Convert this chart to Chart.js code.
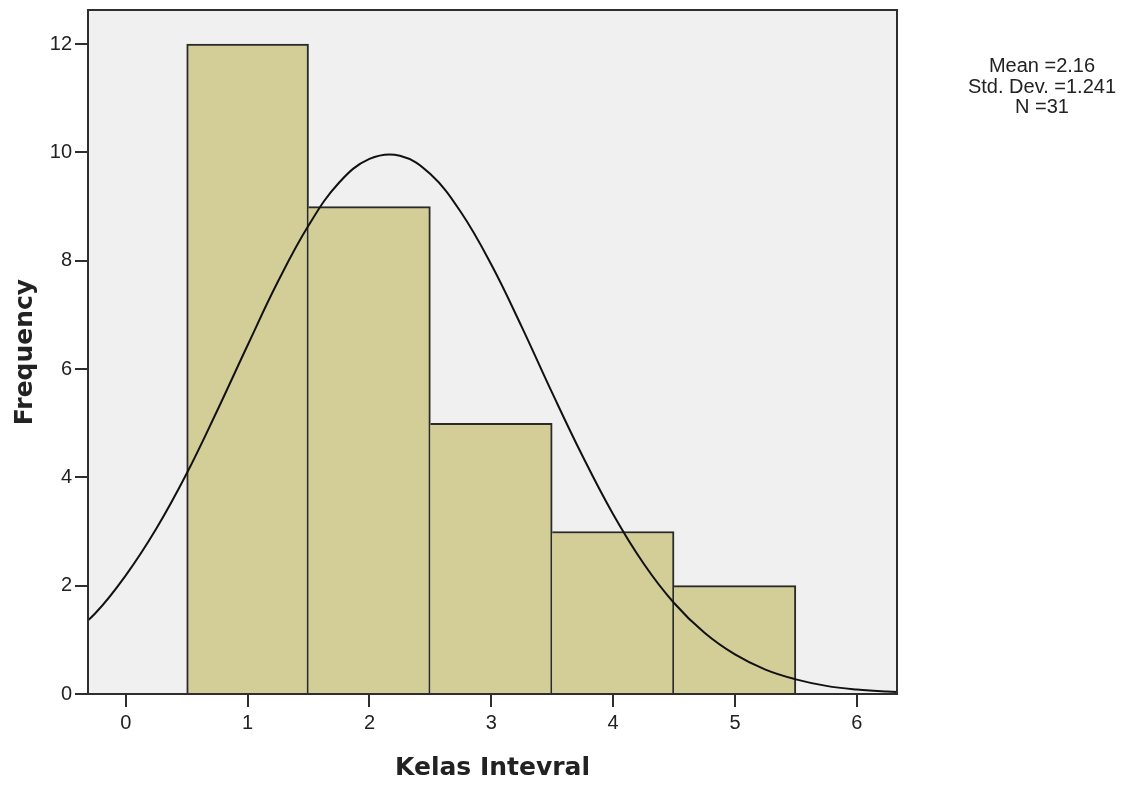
<!DOCTYPE html>
<html>
<head>
<meta charset="utf-8">
<script src="https://cdn.jsdelivr.net/npm/chart.js@4.4.1/dist/chart.umd.min.js"></script>
<style>
  html, body { margin: 0; padding: 0; background: #ffffff; }
  #wrap { width: 1136px; height: 788px; }
</style>
</head>
<body>
<div id="wrap"><canvas id="c" width="1136" height="788"></canvas></div>
<script>
// ---- data ----
const binCenters = [1, 2, 3, 4, 5];
const frequencies = [12, 9, 5, 3, 2];

const curveX = [-0.5, -0.25, 0, 0.25, 0.5, 0.75, 1, 1.25, 1.5, 1.75, 2, 2.25, 2.5, 2.75, 3, 3.25, 3.5, 3.75, 4, 4.25, 4.5, 4.75, 5, 5.25, 5.5, 5.75, 6, 6.25, 6.5];
const curveY = [1.00, 1.49, 2.19, 3.05, 4.07, 5.23, 6.44, 7.62, 8.65, 9.44, 9.88, 9.94, 9.60, 8.90, 7.93, 6.78, 5.56, 4.39, 3.32, 2.41, 1.68, 1.13, 0.73, 0.45, 0.27, 0.15, 0.083, 0.044, 0.022];

const xTicks = [0, 1, 2, 3, 4, 5, 6];
const yTicks = [0, 2, 4, 6, 8, 10, 12];

const statsLines = ['Mean =2.16', 'Std. Dev. =1.241', 'N =31'];
const xTitle = 'Kelas Intevral';
const yTitle = 'Frequency';

// ---- chart ----
const frameColor = '#2e2e2e';
const textColor = '#222222';

const plotDecor = {
  id: 'plotDecor',
  beforeDatasetsDraw(chart) {
    const {ctx, chartArea: a} = chart;
    ctx.save();
    ctx.fillStyle = '#f0f0f0';
    ctx.fillRect(a.left, a.top, a.right - a.left, a.bottom - a.top);
    ctx.restore();
  },
  afterDatasetsDraw(chart) {
    const {ctx, chartArea: a} = chart;
    ctx.save();
    ctx.strokeStyle = frameColor;
    ctx.lineWidth = 2;
    ctx.strokeRect(a.left, a.top, a.right - a.left, a.bottom - a.top);
    ctx.restore();
  },
  afterDraw(chart) {
    const {ctx} = chart;
    ctx.save();
    ctx.fillStyle = textColor;
    ctx.font = '20px "Liberation Sans", Arial, sans-serif';
    ctx.textAlign = 'center';
    ctx.textBaseline = 'alphabetic';
    const baselines = [72, 93, 113];
    statsLines.forEach((t, i) => ctx.fillText(t, 1042, baselines[i]));
    ctx.restore();
  }
};

new Chart(document.getElementById('c'), {
  type: 'bar',
  data: {
    datasets: [
      {
        type: 'line',
        data: curveX.map((x, i) => ({x: x, y: curveY[i]})),
        borderColor: '#111111',
        borderWidth: 2,
        pointRadius: 0,
        fill: false,
        tension: 0.4,
        order: 0
      },
      {
        type: 'bar',
        data: binCenters.map((x, i) => ({x: x, y: frequencies[i]})),
        backgroundColor: 'rgb(211,206,152)',
        borderColor: '#2a2a2a',
        borderWidth: c => c.dataIndex === 0
          ? {top: 2, left: 2, right: 2, bottom: 0}
          : {top: 2, left: 0, right: 2, bottom: 0},
        borderSkipped: false,
        barPercentage: 1,
        categoryPercentage: 1,
        order: 1
      }
    ]
  },
  options: {
    responsive: false,
    animation: false,
    devicePixelRatio: 1,
    layout: { padding: { top: 10, right: 239, left: 0, bottom: 0 } },
    plugins: { legend: { display: false }, tooltip: { enabled: false } },
    scales: {
      x: {
        type: 'linear',
        min: -0.31,
        max: 6.33,
        offset: false,
        afterBuildTicks: s => { s.ticks = xTicks.map(v => ({value: v})); },
        afterFit: s => { s.height = 94; s.paddingLeft = 0; s.paddingRight = 0; },
        grid: { display: true, offset: false, drawOnChartArea: false, drawTicks: true, tickLength: 13, color: frameColor, lineWidth: 2 },
        border: { display: false },
        ticks: { color: textColor, padding: 4, font: { family: '"Liberation Sans", Arial, sans-serif', size: 20 }, maxRotation: 0, autoSkip: false },
        title: { display: true, text: xTitle, color: textColor, font: { family: '"DejaVu Sans", sans-serif', size: 25, weight: 'bold' }, padding: { top: 0, bottom: 5 } }
      },
      y: {
        type: 'linear',
        min: 0,
        max: 12.63,
        afterBuildTicks: s => { s.ticks = yTicks.map(v => ({value: v})); },
        afterFit: s => { s.width = 88; s.paddingTop = 0; s.paddingBottom = 0; },
        grid: { display: true, offset: false, drawOnChartArea: false, drawTicks: true, tickLength: 13, color: frameColor, lineWidth: 2 },
        border: { display: false },
        ticks: { color: textColor, padding: 3, font: { family: '"Liberation Sans", Arial, sans-serif', size: 20 } },
        title: { display: true, text: yTitle, color: textColor, font: { family: '"DejaVu Sans", sans-serif', size: 25, weight: 'bold' }, padding: { top: 10, bottom: 0 } }
      }
    }
  },
  plugins: [plotDecor]
});
</script>
</body>
</html>
